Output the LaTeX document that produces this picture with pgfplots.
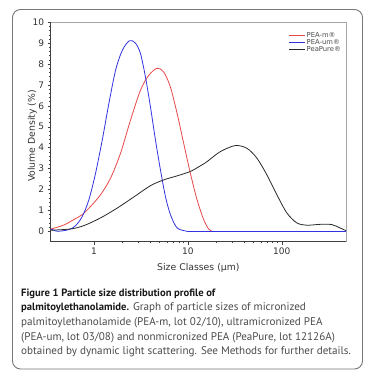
\documentclass[border=0pt]{standalone}
\usepackage{fontspec}
\usepackage{pgfplots}
\pgfplotsset{compat=1.18}
\setmainfont{DejaVu Sans}
\newfontfamily\capfont{PT Sans}

\definecolor{cred}{RGB}{232,72,72}
\definecolor{cblue}{RGB}{50,50,225}
\definecolor{cblack}{RGB}{40,40,40}
\definecolor{framec}{RGB}{120,120,120}
\definecolor{axgray}{RGB}{165,165,165}
\definecolor{captxt}{RGB}{75,75,75}

\begin{document}
\begin{tikzpicture}[x=1pt,y=1pt]
\fill[white] (0,0) rectangle (376,377);
\useasboundingbox (0,0) rectangle (376,377);
\draw[framec, line width=0.9pt, rounded corners=8pt] (12.5,8) rectangle (362.5,367.5);
\begin{axis}[
  name=ax,
  at={(50.7pt,135.3pt)}, anchor=south west,
  scale only axis, width=295.3pt, height=219.4pt,
  xmode=log, xmin=0.347, xmax=482, ymin=-0.5, ymax=10,
  axis lines=left,
  axis line style={-, draw=black!75, line width=0.6pt},
  log ticks with fixed point,
  /pgf/number format/assume math mode=true,
  xtick={1,10,100},
  ytick={0,1,2,3,4,5,6,7,8,9,10},
  minor y tick num=4,
  tick align=outside,
  major tick length=3pt, minor tick length=1.8pt,
  tick style={draw=black!75, line width=0.5pt},
  ticklabel style={font=\fontsize{9}{10}\selectfont, text=black!80},
  xlabel={Size Classes (μm)},
  ylabel={Volume Density (\%)},
  xlabel shift=2pt,
  ylabel shift=-7pt,
  ylabel style={yshift=-4pt, xshift=-4pt},
  label style={font=\fontsize{9.3}{11}\selectfont, text=black!80},
  legend style={at={(0.99,0.965)}, anchor=north east, draw=none, fill=none,
    font=\fontsize{6.8}{7}\selectfont, text=black!70, row sep=-1.5pt,
    inner sep=1pt, nodes={inner sep=1pt}},
  legend cell align=left,
  legend image code/.code={\draw[#1, line width=0.6pt] (0pt,0pt) -- (16pt,0pt);},
]
\addplot[cred, line width=0.8pt, smooth] coordinates {
(0.347,0.10) (0.480,0.30) (0.613,0.56) (0.753,0.80) (0.923,1.19) (1.178,1.75)
(1.504,2.54) (1.920,3.73) (2.453,5.32) (3.132,6.75) (3.836,7.46) (4.710,7.80)
(5.535,7.62) (6.520,6.90) (7.681,5.64) (9.025,4.21) (10.63,2.78) (12.52,1.51)
(14.72,0.56) (16.63,0.11) (18.07,0)
};
\addlegendentry{PEA-m®}
\addplot[cblue, line width=0.8pt, smooth] coordinates {
(0.347,0.11) (0.409,0.0) (0.543,0.08) (0.639,0.27) (0.753,0.71) (0.885,1.51)
(1.042,2.78) (1.228,4.37) (1.443,6.11) (1.700,7.70) (2.002,8.65) (2.393,9.12)
(2.772,9.0) (3.132,8.5) (3.538,7.38) (4.000,5.95) (4.519,4.37) (5.107,2.94)
(5.769,1.67) (6.520,0.80) (7.681,0.16) (9.8,0)
};
\addlegendentry{PEA-um®}
\addplot[cblack, line width=0.8pt, smooth] coordinates {
(0.347,0.05) (0.566,0.11) (0.783,0.27) (1.178,0.64) (1.772,1.11) (2.659,1.64)
(4.000,2.18) (5.535,2.46) (7.681,2.65) (10.63,2.86) (13.57,3.13) (15.99,3.33)
(22.13,3.81) (31.93,4.10) (42.51,3.97) (54.28,3.50) (69.31,2.70) (88.48,1.75)
(113.0,0.88) (144.3,0.40) (184.2,0.29) (255.0,0.33) (339.5,0.32) (415.7,0.16)
(481.6,0.03)
};
\addlegendentry{PeaPure®}
\addplot[cred, line width=0.8pt, forget plot] coordinates {(18.07,0) (482,0)};
\addplot[cblue, line width=0.8pt, forget plot] coordinates {(9.8,0) (482,0)};
\end{axis}
\draw[axgray, line width=0.8pt] (ax.north west) -- (ax.north east) -- (ax.south east);
\node[anchor=base west, inner sep=0pt, font=\capfont\fontsize{10.6}{12}\selectfont\bfseries, text=black!90]
  at (21,80.8) {Figure 1 Particle size distribution profile of};
\node[anchor=base west, inner sep=0pt, font=\capfont\fontsize{11.1}{12}\selectfont, text=captxt]
  at (21,66.2) {{\fontsize{10.6}{12}\selectfont\bfseries\color{black!90}palmitoylethanolamide.} Graph of particle sizes of micronized};
\node[anchor=base west, inner sep=0pt, font=\capfont\fontsize{11.1}{12}\selectfont, text=captxt]
  at (21,51.8) {palmitoylethanolamide (PEA-m, lot 02/10), ultramicronized PEA};
\node[anchor=base west, inner sep=0pt, font=\capfont\fontsize{11.1}{12}\selectfont, text=captxt]
  at (21,36.8) {(PEA-um, lot 03/08) and nonmicronized PEA (PeaPure, lot 12126A)};
\node[anchor=base west, inner sep=0pt, font=\capfont\fontsize{11.1}{12}\selectfont, text=captxt]
  at (21,22.5) {obtained by dynamic light scattering. See Methods for further details.};
\end{tikzpicture}
\end{document}
